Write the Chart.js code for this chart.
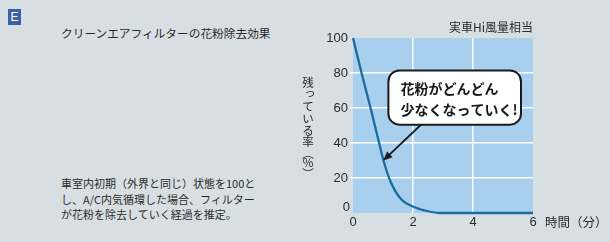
<!DOCTYPE html>
<html>
<head>
<meta charset="utf-8">
<script src="https://cdn.jsdelivr.net/npm/chart.js@4/dist/chart.umd.min.js"></script>
<style>
  html, body { margin: 0; padding: 0; }
  body { width: 610px; height: 242px; background: #d8dfe3; position: relative; overflow: hidden;
         font-family: "Noto Sans CJK JP", sans-serif; color: #2a2a2a; }
  #chart { position: absolute; left: 0; top: 0; }
  .badge { position: absolute; left: 8px; top: 9px; width: 13px; height: 16px; background: #3d5fa6;
           color: #fff; font: 12px "Liberation Sans", sans-serif; line-height: 16px; text-align: center; }
  .title { position: absolute; left: 61px; top: 24px; font-size: 11.7px; line-height: 18px; white-space: nowrap; }
  .note { position: absolute; left: 61px; top: 176px; font-size: 11px; line-height: 15.5px; white-space: nowrap; }
</style>
</head>
<body>
<div class="badge">E</div>
<div class="title">クリーンエアフィルターの花粉除去効果</div>
<div class="note">車室内初期（外界と同じ）状態を100と<br>し、A/C内気循環した場合、フィルター<br>が花粉を除去していく経過を推定。</div>
<canvas id="chart" width="610" height="242"></canvas>
<script>
// time (min) and remaining rate (%)
const minutes   = [0, 0.3, 0.6, 0.9, 1.0, 1.25, 1.6, 2.1, 2.5, 2.9, 6];
const remaining = [100, 79, 59, 38, 31, 18, 8, 3, 1, 0, 0];

const yTitle    = ['残', 'っ', 'て', 'い', 'る', '率', '︵', '%', '︶'];
const xTitle    = '時間（分）';
const topNote   = '実車Hi風量相当';
const bubble    = ['花粉がどんどん', '少なくなっていく!'];

const numFont = '"Liberation Sans", Arial, sans-serif';
const jpFont  = '"Noto Sans CJK JP", sans-serif';

// plot background, labels, speech bubble + arrow
const decor = {
  id: 'decor',
  beforeDraw(chart) {
    const { ctx, chartArea: a } = chart;
    ctx.save();
    ctx.fillStyle = '#a9cfef';
    ctx.fillRect(a.left, a.top, a.right - a.left, a.bottom - a.top);
    ctx.restore();
  },
  afterDraw(chart) {
    const { ctx, chartArea: a, scales: { x, y } } = chart;
    ctx.save();
    ctx.fillStyle = '#2a2a2a';

    // y "0" sits a bit above / left of the baseline
    ctx.font = '13px ' + numFont;
    ctx.textAlign = 'right';
    ctx.textBaseline = 'middle';
    ctx.fillText('0', a.left - 3, y.getPixelForValue(0) - 6);

    // top-right note
    ctx.font = '12px ' + jpFont;
    ctx.textAlign = 'right';
    ctx.fillText(topNote, a.right, a.top - 11);

    // x axis title
    ctx.textAlign = 'left';
    ctx.font = '12.5px ' + jpFont;
    ctx.fillText(xTitle, a.right + 12, x.bottom - 20);

    // vertical y title
    ctx.font = '11.5px ' + jpFont;
    ctx.textAlign = 'center';
    let ty = 83;
    yTitle.forEach(c => {
      let dx = 0, dy = 0;
      if (c === 'っ') { dx = 2; dy = -2; }
      const step = (c === '︵' || c === '︶') ? 8.5 : 11.8;
      ctx.fillText(c, 308 + dx, ty + dy);
      ty += step;
    });

    // arrow from bubble to curve
    const tipX = x.getPixelForValue(1.01), tipY = y.getPixelForValue(30);
    const sX = x.getPixelForValue(2.3), sY = y.getPixelForValue(51);
    const ang = Math.atan2(tipY - sY, tipX - sX);
    ctx.strokeStyle = '#1a1a1a';
    ctx.lineWidth = 1.8;
    ctx.beginPath();
    ctx.moveTo(sX, sY);
    ctx.lineTo(tipX - 6 * Math.cos(ang), tipY - 6 * Math.sin(ang));
    ctx.stroke();
    ctx.fillStyle = '#1a1a1a';
    ctx.beginPath();
    ctx.moveTo(tipX, tipY);
    ctx.lineTo(tipX - 9 * Math.cos(ang) + 4 * Math.sin(ang), tipY - 9 * Math.sin(ang) - 4 * Math.cos(ang));
    ctx.lineTo(tipX - 9 * Math.cos(ang) - 4 * Math.sin(ang), tipY - 9 * Math.sin(ang) + 4 * Math.cos(ang));
    ctx.closePath();
    ctx.fill();

    // bubble box
    const bl = x.getPixelForValue(1.18), br = x.getPixelForValue(5.6);
    const bt = y.getPixelForValue(81.5), bb = y.getPixelForValue(50.5);
    ctx.fillStyle = '#ffffff';
    ctx.strokeStyle = '#1a1a1a';
    ctx.lineWidth = 2;
    ctx.beginPath();
    ctx.roundRect(bl, bt, br - bl, bb - bt, 11);
    ctx.fill();
    ctx.stroke();

    ctx.fillStyle = '#1a1a1a';
    ctx.font = 'bold 14px ' + jpFont;
    ctx.textAlign = 'left';
    ctx.textBaseline = 'middle';
    ctx.fillText(bubble[0], bl + 12, bt + 18);
    ctx.fillText(bubble[1], bl + 12, bt + 39);
    ctx.restore();
  }
};

const edgeless = (lo, hi) => c => (c.tick && (c.tick.value === lo || c.tick.value === hi)) ? 'rgba(0,0,0,0)' : '#ffffff';

new Chart(document.getElementById('chart'), {
  type: 'line',
  data: {
    datasets: [{
      data: minutes.map((m, i) => ({ x: m, y: remaining[i] })),
      borderColor: '#1b6c9e',
      borderWidth: 2.3,
      pointRadius: 0,
      cubicInterpolationMode: 'monotone',
      clip: false
    }]
  },
  options: {
    responsive: false,
    animation: false,
    layout: { padding: { left: 0, right: 77, top: 38, bottom: 0 } },
    plugins: { legend: { display: false }, tooltip: { enabled: false } },
    scales: {
      x: {
        type: 'linear', min: 0, max: 6,
        border: { display: false },
        grid: { color: edgeless(0, 6), lineWidth: 1.5, drawTicks: false },
        ticks: { stepSize: 2, padding: 2, color: '#2a2a2a', font: { family: numFont, size: 13 } },
        afterFit(s) { s.height = 29; }
      },
      y: {
        min: 0, max: 100,
        border: { display: false },
        grid: { color: edgeless(0, 100), lineWidth: 1.5, tickLength: 3 },
        ticks: { stepSize: 20, padding: 2, color: '#2a2a2a', font: { family: numFont, size: 13 },
                 callback: v => v === 0 ? '' : v },
        afterFit(s) { s.width = 353; }
      }
    }
  },
  plugins: [decor]
});
</script>
</body>
</html>
